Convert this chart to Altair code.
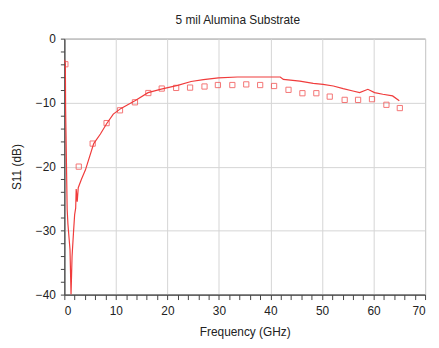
import altair as alt
import pandas as pd

# Simulated S11 curve (solid line)
line_freq = [0.05, 0.2, 0.25, 0.55, 0.7, 1.1, 1.3, 1.5, 1.8, 2.0, 2.2, 2.3, 2.5, 2.7,
             3.3, 4.1, 5.7, 7.0, 8.2, 9.5, 11.0, 13.7, 16.25, 18.8, 22.0, 24.6, 27.0,
             29.9, 33.6, 41.9, 42.5, 45.7, 48.3, 50.2, 52.2, 54.1, 56.0, 57.3, 58.9,
             60.2, 61.8, 63.7, 65.0]
line_s11 = [-3.3, -4.0, -11.0, -26.7, -29.0, -33.0, -40.0, -34.0, -30.0, -27.5, -26.5,
            -23.5, -25.5, -23.3, -22.0, -20.5, -16.4, -14.9, -13.3, -11.8, -10.9, -9.7,
            -8.44, -7.9, -7.3, -6.7, -6.4, -6.12, -6.0, -6.0, -6.38, -6.64, -7.0, -7.15,
            -7.4, -7.82, -8.18, -8.44, -7.92, -8.44, -8.69, -8.95, -9.72]

# Measured S11 (hollow squares)
meas_freq = [0.2, 2.8, 5.5, 8.2, 10.8, 13.7, 16.3, 18.9, 21.7, 24.4, 27.2, 29.8, 32.6,
             35.3, 38.0, 40.7, 43.5, 46.2, 48.9, 51.5, 54.4, 57.0, 59.7, 62.5, 65.1]
meas_s11 = [-4.0, -20.0, -16.4, -13.2, -11.2, -9.95, -8.5, -7.8, -7.7, -7.65, -7.48,
            -7.25, -7.25, -7.15, -7.25, -7.4, -8.0, -8.53, -8.53, -9.06, -9.57, -9.57,
            -9.46, -10.34, -10.85]

x_ticks = list(range(0, 71, 2))
y_ticks = list(range(-40, 1, 2))

line_df = pd.DataFrame({"f": line_freq, "s": line_s11, "o": list(range(len(line_freq)))})
meas_df = pd.DataFrame({"f": meas_freq, "s": meas_s11})

RED = "#f03c3c"
FONT = "Liberation Sans"
MAJOR = "datum.value % 10 === 0"

x_enc = alt.X(
    "f:Q",
    scale=alt.Scale(domain=[0, 70], nice=False, zero=False),
    axis=alt.Axis(
        title="Frequency (GHz)",
        values=x_ticks,
        tickCount=100,
        format="d",
        labelExpr=f"{MAJOR} ? datum.label : ''",
        labelOverlap=False,
        gridOpacity={"condition": {"test": MAJOR, "value": 1}, "value": 0},
        tickSize=5,
        labelPadding=6,
        titlePadding=10,
    ),
)
y_enc = alt.Y(
    "s:Q",
    scale=alt.Scale(domain=[-40, 0], nice=False, zero=False),
    axis=alt.Axis(
        title="S11 (dB)",
        values=y_ticks,
        tickCount=100,
        format="d",
        labelExpr=f"{MAJOR} ? datum.label : ''",
        labelOverlap=False,
        gridOpacity={"condition": {"test": MAJOR, "value": 1}, "value": 0},
        tickSize=4,
        labelPadding=5,
        titlePadding=12,
    ),
)

line = alt.Chart(line_df).mark_line(color=RED, strokeWidth=1.2, clip=True).encode(
    x=x_enc, y=y_enc, order="o:Q"
)
pts = alt.Chart(meas_df).mark_point(
    shape="square", filled=False, color=RED, size=28, strokeWidth=1, clip=True
).encode(x="f:Q", y="s:Q")

chart = (
    alt.layer(line, pts)
    .properties(
        width=365,
        height=259,
        title=alt.TitleParams("5 mil Alumina Substrate", fontSize=12, font=FONT,
                              fontWeight="normal", color="#222", offset=6, dx=-7),
        autosize=alt.AutoSizeParams(type="none"),
        padding={"left": 57, "top": 29, "right": 6, "bottom": 50},
    )
    .configure_view(stroke="#777", strokeWidth=1)
    .configure_axis(
        labelFont=FONT, titleFont=FONT, labelFontSize=12, titleFontSize=12,
        titleFontWeight="normal", labelColor="#222", titleColor="#222",
        domainColor="#444", tickColor="#444", gridColor="#d4d4d4", gridWidth=1,
        domainWidth=1.2,
    )
)

chart.save("out.html", embed_options={"renderer": "svg", "actions": False})
